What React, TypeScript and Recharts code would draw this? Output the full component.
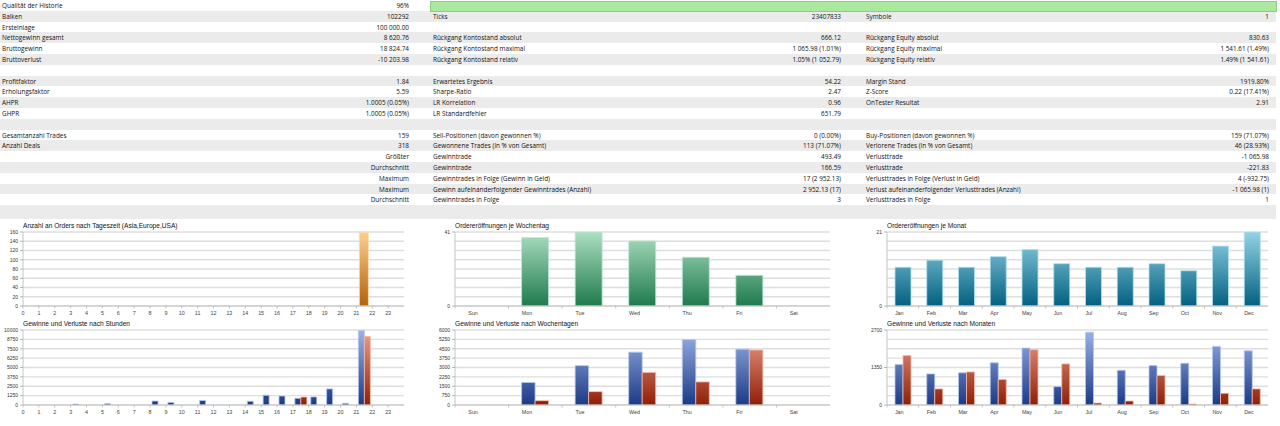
import React from 'react';
import { BarChart, Bar, XAxis, YAxis, CartesianGrid } from 'recharts';

// ---------- Table data ----------
const col1Rows: [string, string][] = [
  ['Qualität der Historie', '96%'],
  ['Balken', '102292'],
  ['Ersteinlage', '100 000.00'],
  ['Nettogewinn gesamt', '8 620.76'],
  ['Bruttogewinn', '18 824.74'],
  ['Bruttoverlust', '-10 203.98'],
  ['', ''],
  ['Profitfaktor', '1.84'],
  ['Erholungsfaktor', '5.59'],
  ['AHPR', '1.0005 (0.05%)'],
  ['GHPR', '1.0005 (0.05%)'],
  ['', ''],
  ['Gesamtanzahl Trades', '159'],
  ['Anzahl Deals', '318'],
  ['', 'Größter'],
  ['', 'Durchschnitt'],
  ['', 'Maximum'],
  ['', 'Maximum'],
  ['', 'Durchschnitt'],
  ['', ''],
];
const col2Rows: [string, string][] = [
  ['', ''],
  ['Ticks', '23407833'],
  ['', ''],
  ['Rückgang Kontostand absolut', '666.12'],
  ['Rückgang Kontostand maximal', '1 065.98 (1.01%)'],
  ['Rückgang Kontostand relativ', '1.05% (1 052.79)'],
  ['', ''],
  ['Erwartetes Ergebnis', '54.22'],
  ['Sharpe-Ratio', '2.47'],
  ['LR Korrelation', '0.96'],
  ['LR Standardfehler', '651.79'],
  ['', ''],
  ['Sell-Positionen (davon gewonnen %)', '0 (0.00%)'],
  ['Gewonnene Trades (in % von Gesamt)', '113 (71.07%)'],
  ['Gewinntrade', '493.49'],
  ['Gewinntrade', '166.59'],
  ['Gewinntrades in Folge (Gewinn in Geld)', '17 (2 952.13)'],
  ['Gewinn aufeinanderfolgender Gewinntrades (Anzahl)', '2 952.13 (17)'],
  ['Gewinntrades in Folge', '3'],
  ['', ''],
];
const col3Rows: [string, string][] = [
  ['', ''],
  ['Symbole', '1'],
  ['', ''],
  ['Rückgang Equity absolut', '830.63'],
  ['Rückgang Equity maximal', '1 541.61 (1.49%)'],
  ['Rückgang Equity relativ', '1.49% (1 541.61)'],
  ['', ''],
  ['Margin Stand', '1919.80%'],
  ['Z-Score', '0.22 (17.41%)'],
  ['OnTester Resultat', '2.91'],
  ['', ''],
  ['', ''],
  ['Buy-Positionen (davon gewonnen %)', '159 (71.07%)'],
  ['Verlorene Trades (in % von Gesamt)', '46 (28.93%)'],
  ['Verlusttrade', '-1 065.98'],
  ['Verlusttrade', '-221.83'],
  ['Verlusttrades in Folge (Verlust in Geld)', '4 (-932.75)'],
  ['Verlust aufeinanderfolgender Verlusttrades (Anzahl)', '-1 065.98 (1)'],
  ['Verlusttrades in Folge', '1'],
  ['', ''],
];

// ---------- Chart data ----------
const hourLabels = ['0', '1', '2', '3', '4', '5', '6', '7', '8', '9', '10', '11', '12', '13', '14', '15', '16', '17', '18', '19', '20', '21', '22', '23'];
const ordersByHour = [0, 0, 0, 0, 0, 0, 0, 0, 0, 0, 0, 0, 0, 0, 0, 0, 0, 0, 0, 0, 0, 159, 0, 0];
const profitByHour = [0, 0, 0, 120, 0, 180, 0, 0, 530, 350, 0, 600, 0, 0, 500, 1300, 1200, 900, 1080, 2150, 220, 9950, 0, 0];
const lossByHour = [0, 0, 0, 0, 0, 0, 0, 0, 0, 0, 0, 0, 0, 0, 0, 0, 0, 1066, 0, 0, 0, 9150, 0, 0];

const weekdays = ['Sun', 'Mon', 'Tue', 'Wed', 'Thu', 'Fri', 'Sat'];
const ordersByWeekday = [0, 38, 41, 36, 27, 17, 0];
const profitByWeekday = [0, 1800, 3150, 4230, 5230, 4470, 0];
const lossByWeekday = [0, 350, 1070, 2600, 1850, 4400, 0];

const months = ['Jan', 'Feb', 'Mar', 'Apr', 'May', 'Jun', 'Jul', 'Aug', 'Sep', 'Oct', 'Nov', 'Dec'];
const ordersByMonth = [11, 13, 11, 14, 16, 12, 11, 11, 12, 10, 17, 21];
const profitByMonth = [1460, 1120, 1160, 1520, 2050, 660, 2620, 1250, 1420, 1500, 2110, 1950];
const lossByMonth = [1780, 580, 1190, 920, 1990, 1480, 70, 145, 1060, 35, 420, 580];

const hourTicksOrders = [0, 20, 40, 60, 80, 100, 120, 140, 160];
const hourTicksProfit = [0, 1250, 2500, 3750, 5000, 6250, 7500, 8750, 10000];
const weekdayTicksOrders = [0, 41];
const weekdayTicksProfit = [0, 750, 1500, 2250, 3000, 3750, 4500, 5250, 6000];
const monthTicksOrders = [0, 21];
const monthTicksProfit = [0, 1350, 2700];

const hourData = hourLabels.map((cat, i) => ({ cat, orders: ordersByHour[i], profit: profitByHour[i], loss: lossByHour[i] }));
const weekdayData = weekdays.map((cat, i) => ({ cat, orders: ordersByWeekday[i], profit: profitByWeekday[i], loss: lossByWeekday[i] }));
const monthData = months.map((cat, i) => ({ cat, orders: ordersByMonth[i], profit: profitByMonth[i], loss: lossByMonth[i] }));

// ---------- Styles ----------
const ROW_H = 10.8;
const TABLE_FONT = '"Open Sans", "Noto Sans", sans-serif';
const CHART_FONT = '"Liberation Sans", Arial, sans-serif';

type Series = { key: string; fill: string; stroke: string };

const ORANGE: Series[] = [{ key: 'orders', fill: 'url(#gOrange)', stroke: '#fddcaa' }];
const GREEN: Series[] = [{ key: 'orders', fill: 'url(#gGreen)', stroke: '#bfe9d0' }];
const TEAL: Series[] = [{ key: 'orders', fill: 'url(#gTeal)', stroke: '#b0e0ee' }];
const PL: Series[] = [
  { key: 'profit', fill: 'url(#gBlue)', stroke: '#b4c6ee' },
  { key: 'loss', fill: 'url(#gRed)', stroke: '#f3b9aa' },
];

const TOP_Y = 218;
const BOT_Y = 318;
const TOP_M = 14;
const TOP_PLOT = 74;
const BOT_M = 12;
const BOT_PLOT = 75;

type ChartProps = {
  left: number;
  top: number;
  width: number;
  height: number;
  mTop: number;
  plotH: number;
  yWidth: number;
  rMargin: number;
  xH: number;
  data: any[];
  series: Series[];
  barSize: number;
  yMax: number;
  yTicks: number[];
  gridSteps: number;
  tickMode: 'hour' | 'start';
  title: string;
  titleTop: number;
};

function MiniChart(p: ChartProps) {
  const plotW = p.width - p.yWidth - p.rMargin;
  const band = plotW / p.data.length;
  const axisY = p.mTop + p.plotH;
  const grid: number[] = [];
  for (let i = 0; i <= p.gridSteps; i++) grid.push((p.yMax * i) / p.gridSteps);
  const pairHalf = (p.barSize * p.series.length) / 2;

  const renderTick = (t: any) => {
    const x = t.x;
    const v = t.payload.value;
    const bx = x - band / 2;
    const tx = p.tickMode === 'hour' ? bx : x - pairHalf;
    return (
      <g>
        <line x1={bx} x2={bx} y1={axisY} y2={axisY + 2.5} stroke="#b4b4b4" strokeWidth={0.8} />
        <text
          x={tx}
          y={axisY + 5.4}
          dy="0.72em"
          textAnchor={p.tickMode === 'hour' ? 'middle' : 'start'}
          fontSize={5.4}
          fill="#444"
          fontFamily={CHART_FONT}
        >
          {v}
        </text>
      </g>
    );
  };

  return (
    <>
      <div
        style={{
          position: 'absolute',
          left: p.left + p.yWidth,
          top: p.titleTop,
          fontFamily: CHART_FONT,
          fontSize: 6.6,
          lineHeight: 1,
          color: '#111',
          whiteSpace: 'nowrap',
        }}
      >
        {p.title}
      </div>
      <div style={{ position: 'absolute', left: p.left, top: p.top }}>
        <BarChart
          width={p.width}
          height={p.height}
          data={p.data}
          margin={{ top: p.mTop, right: p.rMargin, left: 0, bottom: 0 }}
          barGap={0}
        >
          <CartesianGrid vertical={false} horizontalValues={grid} stroke="#dedede" strokeWidth={1.3} />
          <XAxis
            dataKey="cat"
            height={p.xH}
            interval={0}
            tickLine={false}
            axisLine={{ stroke: '#c4c4c4' }}
            tick={renderTick}
          />
          <YAxis
            width={p.yWidth}
            type="number"
            domain={[0, p.yMax]}
            ticks={p.yTicks}
            interval={0}
            allowDataOverflow
            tickSize={3}
            tickMargin={2}
            tick={{ fontSize: 5, fill: '#333', fontFamily: CHART_FONT }}
            axisLine={{ stroke: '#c4c4c4' }}
            tickLine={{ stroke: '#b4b4b4' }}
          />
          {p.series.map((s) => (
            <Bar
              key={s.key}
              dataKey={s.key}
              fill={s.fill}
              stroke={s.stroke}
              strokeWidth={0.8}
              barSize={p.barSize}
              isAnimationActive={false}
            />
          ))}
        </BarChart>
      </div>
    </>
  );
}

function Grad({ id, top, bottom, y1, y2 }: { id: string; top: string; bottom: string; y1: number; y2: number }) {
  return (
    <linearGradient id={id} gradientUnits="userSpaceOnUse" x1={0} x2={0} y1={y1} y2={y2}>
      <stop offset="0%" stopColor={top} />
      <stop offset="100%" stopColor={bottom} />
    </linearGradient>
  );
}

function Table() {
  const cols: { rows: [string, string][]; lx: number; rx: number }[] = [
    { rows: col1Rows, lx: 2, rx: 409 },
    { rows: col2Rows, lx: 433, rx: 841 },
    { rows: col3Rows, lx: 866, rx: 1269 },
  ];
  const textTop = 0.9;
  return (
    <>
      {col1Rows.map((_, i) => (
        <div
          key={'bg' + i}
          style={{
            position: 'absolute',
            left: 0,
            top: i * ROW_H,
            width: 1276,
            height: ROW_H + (i === 19 ? 3 : 0),
            background: i % 2 === 1 ? '#ebebeb' : '#ffffff',
          }}
        />
      ))}
      <div
        style={{
          position: 'absolute',
          left: 430,
          top: 1,
          width: 845,
          height: 8.5,
          background: '#a9e89e',
          border: '0.8px solid #8fcd82',
        }}
      />
      {cols.map((c, ci) =>
        c.rows.map((r, i) => (
          <React.Fragment key={ci + '-' + i}>
            {r[0] && (
              <div
                style={{
                  position: 'absolute',
                  left: c.lx,
                  top: i * ROW_H + textTop,
                  height: ROW_H,
                  lineHeight: ROW_H + 'px',
                  whiteSpace: 'nowrap',
                }}
              >
                {r[0]}
              </div>
            )}
            {r[1] && (
              <div
                style={{
                  position: 'absolute',
                  left: c.rx - 200,
                  width: 200,
                  textAlign: 'right',
                  top: i * ROW_H + textTop,
                  height: ROW_H,
                  lineHeight: ROW_H + 'px',
                  whiteSpace: 'nowrap',
                }}
              >
                {r[1]}
              </div>
            )}
          </React.Fragment>
        ))
      )}
    </>
  );
}

export default function App() {
  return (
    <div
      style={{
        position: 'absolute',
        left: 0,
        top: 0,
        width: 1280,
        height: 426,
        overflow: 'hidden',
        background: '#fff',
        fontFamily: TABLE_FONT,
        fontSize: 6.4,
        color: '#111',
      }}
    >
      <svg width={0} height={0} style={{ position: 'absolute' }}>
        <defs>
          <Grad id="gOrange" top="#fdd08f" bottom="#b3600a" y1={TOP_M} y2={TOP_M + TOP_PLOT} />
          <Grad id="gGreen" top="#acdfc2" bottom="#1f7a4c" y1={TOP_M} y2={TOP_M + TOP_PLOT} />
          <Grad id="gTeal" top="#93d3e6" bottom="#036080" y1={TOP_M} y2={TOP_M + TOP_PLOT} />
          <Grad id="gBlue" top="#9cb3e6" bottom="#1b3a86" y1={BOT_M} y2={BOT_M + BOT_PLOT} />
          <Grad id="gRed" top="#eea290" bottom="#8f1f05" y1={BOT_M} y2={BOT_M + BOT_PLOT} />
        </defs>
      </svg>
      <Table />

      <MiniChart
        left={0} top={TOP_Y} width={410} height={100} mTop={TOP_M} plotH={TOP_PLOT} yWidth={23} rMargin={6} xH={12}
        data={hourData} series={ORANGE} barSize={9} yMax={160} yTicks={hourTicksOrders} gridSteps={8} tickMode="hour"
        title="Anzahl an Orders nach Tageszeit (Asia,Europe,USA)" titleTop={223.2}
      />
      <MiniChart
        left={430} top={TOP_Y} width={405} height={100} mTop={TOP_M} plotH={TOP_PLOT} yWidth={25} rMargin={5} xH={12}
        data={weekdayData} series={GREEN} barSize={27} yMax={41} yTicks={weekdayTicksOrders} gridSteps={8} tickMode="start"
        title="Ordereröffnungen je Wochentag" titleTop={223.2}
      />
      <MiniChart
        left={860} top={TOP_Y} width={414} height={100} mTop={TOP_M} plotH={TOP_PLOT} yWidth={27} rMargin={6} xH={12}
        data={monthData} series={TEAL} barSize={16} yMax={21} yTicks={monthTicksOrders} gridSteps={8} tickMode="start"
        title="Ordereröffnungen je Monat" titleTop={223.2}
      />

      <MiniChart
        left={0} top={BOT_Y} width={410} height={100} mTop={BOT_M} plotH={BOT_PLOT} yWidth={23} rMargin={6} xH={13}
        data={hourData} series={PL} barSize={6} yMax={10000} yTicks={hourTicksProfit} gridSteps={8} tickMode="hour"
        title="Gewinne und Verluste nach Stunden" titleTop={321.3}
      />
      <MiniChart
        left={430} top={BOT_Y} width={405} height={100} mTop={BOT_M} plotH={BOT_PLOT} yWidth={25} rMargin={5} xH={13}
        data={weekdayData} series={PL} barSize={13.5} yMax={6000} yTicks={weekdayTicksProfit} gridSteps={8} tickMode="start"
        title="Gewinne und Verluste nach Wochentagen" titleTop={321.3}
      />
      <MiniChart
        left={860} top={BOT_Y} width={414} height={100} mTop={BOT_M} plotH={BOT_PLOT} yWidth={27} rMargin={6} xH={13}
        data={monthData} series={PL} barSize={8} yMax={2700} yTicks={monthTicksProfit} gridSteps={8} tickMode="start"
        title="Gewinne und Verluste nach Monaten" titleTop={321.3}
      />
    </div>
  );
}
